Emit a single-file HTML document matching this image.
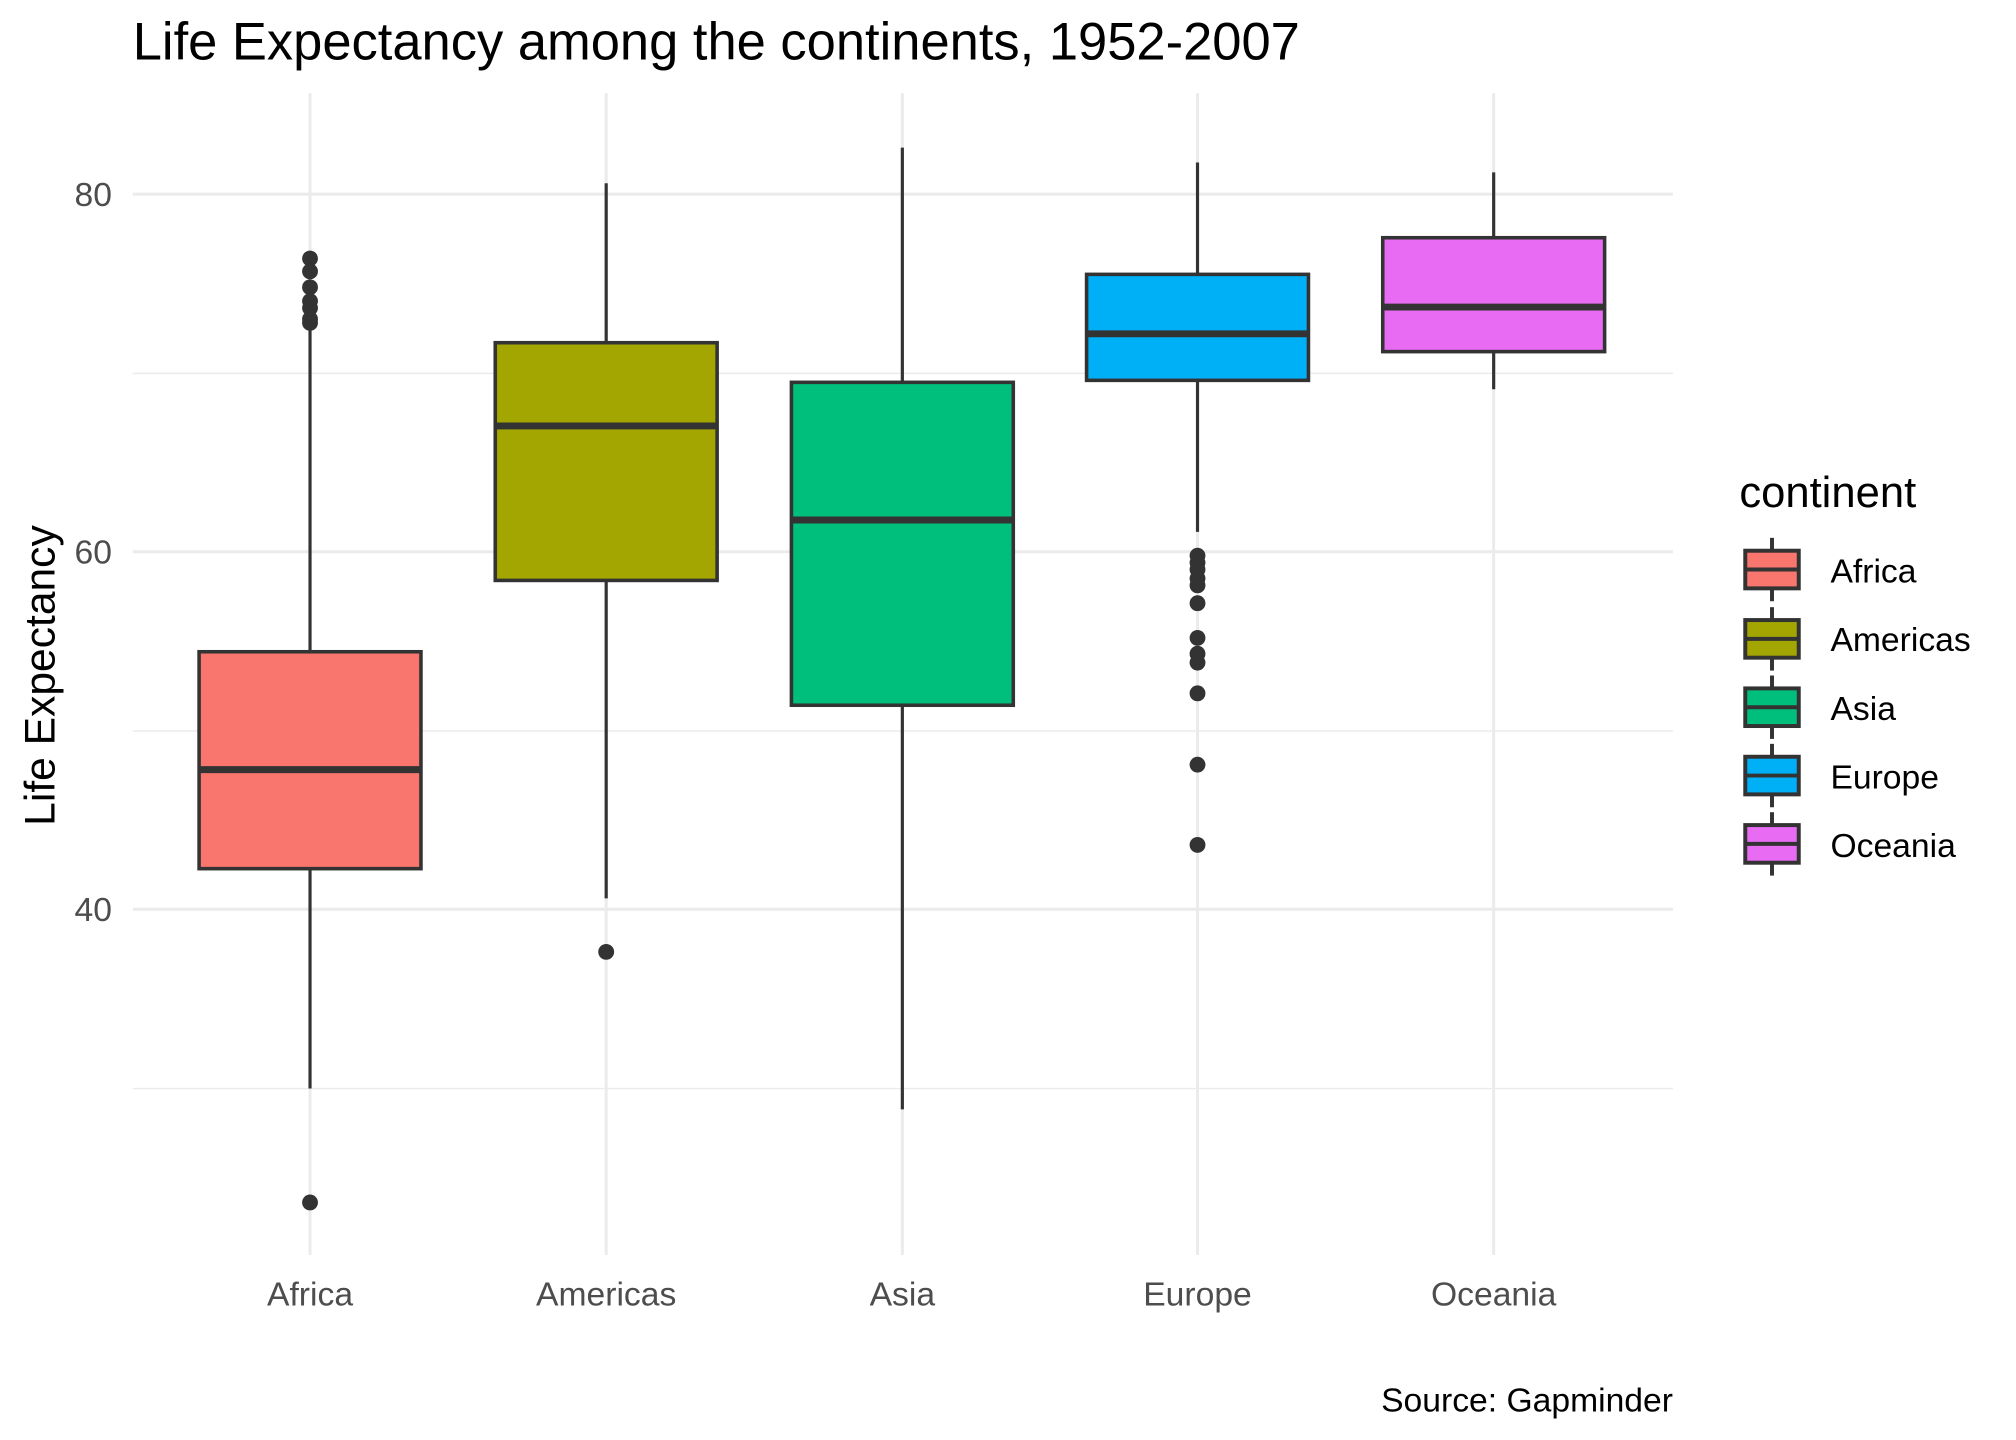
<!DOCTYPE html><html><head><meta charset="utf-8"><style>body{margin:0;background:#fff}svg{display:block}text{font-family:"Liberation Sans",sans-serif}</style></head><body>
<svg width="2016" height="1440" viewBox="0 0 2016 1440">
<g transform="scale(0.9905)">
<g stroke="#ebebeb" stroke-width="1.5">
<line x1="134" x2="1689" y1="377" y2="377"/><line x1="134" x2="1689" y1="738" y2="738"/><line x1="134" x2="1689" y1="1099" y2="1099"/>
</g>
<g stroke="#ebebeb" stroke-width="3">
<line x1="134" x2="1689" y1="196" y2="196"/><line x1="134" x2="1689" y1="557" y2="557"/><line x1="134" x2="1689" y1="918" y2="918"/>
<line x1="313" x2="313" y1="94" y2="1267"/><line x1="612" x2="612" y1="94" y2="1267"/><line x1="911" x2="911" y1="94" y2="1267"/><line x1="1209" x2="1209" y1="94" y2="1267"/><line x1="1508" x2="1508" y1="94" y2="1267"/>
</g>
<g stroke="#333" stroke-width="3.2" fill="none">
<line x1="313" x2="313" y1="326" y2="1099"/><line x1="612" x2="612" y1="185" y2="907"/><line x1="911" x2="911" y1="149" y2="1120"/><line x1="1209" x2="1209" y1="164" y2="537"/><line x1="1508" x2="1508" y1="174" y2="393"/>
</g>
<g stroke="#333" stroke-width="3.6">
<rect x="201" y="658" width="224" height="219" fill="#F8766D"/>
<rect x="500" y="346" width="224" height="240" fill="#A3A500"/>
<rect x="799" y="386" width="224" height="326" fill="#00BF7D"/>
<rect x="1097" y="277" width="224" height="107" fill="#00B0F6"/>
<rect x="1396" y="240" width="224" height="115" fill="#E76BF3"/>
</g>
<g stroke="#333" stroke-width="7">
<line x1="201" x2="425" y1="777" y2="777"/><line x1="500" x2="724" y1="430" y2="430"/><line x1="799" x2="1023" y1="525" y2="525"/><line x1="1097" x2="1321" y1="337" y2="337"/><line x1="1396" x2="1620" y1="310" y2="310"/>
</g>
<g fill="#333">
<circle cx="313" cy="261" r="8"/><circle cx="313" cy="274" r="8"/><circle cx="313" cy="290" r="8"/><circle cx="313" cy="304" r="8"/><circle cx="313" cy="311" r="8"/><circle cx="313" cy="322" r="8"/><circle cx="313" cy="326" r="8"/><circle cx="313" cy="1214" r="8"/>
<circle cx="612" cy="961" r="8"/>
<circle cx="1209" cy="561" r="8"/><circle cx="1209" cy="568" r="8"/><circle cx="1209" cy="575" r="8"/><circle cx="1209" cy="584" r="8"/><circle cx="1209" cy="591" r="8"/><circle cx="1209" cy="609" r="8"/><circle cx="1209" cy="644" r="8"/><circle cx="1209" cy="660" r="8"/><circle cx="1209" cy="669" r="8"/><circle cx="1209" cy="700" r="8"/><circle cx="1209" cy="772" r="8"/><circle cx="1209" cy="853" r="8"/>
</g>
<g fill="#4d4d4d" font-size="34" text-anchor="end">
<text x="113" y="208">80</text><text x="113" y="569">60</text><text x="113" y="930">40</text>
</g>
<g fill="#4d4d4d" font-size="34" text-anchor="middle">
<text x="313" y="1318">Africa</text><text x="612" y="1318">Americas</text><text x="911" y="1318">Asia</text><text x="1209" y="1318">Europe</text><text x="1508" y="1318">Oceania</text>
</g>
<text x="134" y="60" font-size="53">Life Expectancy among the continents, 1952-2007</text>
<text transform="translate(55,682) rotate(-90)" font-size="43" text-anchor="middle">Life Expectancy</text>
<text x="1689" y="1425" font-size="34" text-anchor="end">Source: Gapminder</text>
<text x="1756" y="512" font-size="44">continent</text>
<g stroke="#333" stroke-width="4">
<line x1="1789" x2="1789" y1="543" y2="607"/><rect x="1762" y="556" width="54" height="38" fill="#F8766D"/><line x1="1762" x2="1816" y1="575" y2="575"/>
<line x1="1789" x2="1789" y1="613" y2="677"/><rect x="1762" y="626" width="54" height="38" fill="#A3A500"/><line x1="1762" x2="1816" y1="645" y2="645"/>
<line x1="1789" x2="1789" y1="682" y2="746"/><rect x="1762" y="695" width="54" height="38" fill="#00BF7D"/><line x1="1762" x2="1816" y1="714" y2="714"/>
<line x1="1789" x2="1789" y1="751" y2="815"/><rect x="1762" y="764" width="54" height="38" fill="#00B0F6"/><line x1="1762" x2="1816" y1="783" y2="783"/>
<line x1="1789" x2="1789" y1="820" y2="884"/><rect x="1762" y="833" width="54" height="38" fill="#E76BF3"/><line x1="1762" x2="1816" y1="852" y2="852"/>
</g>
<g font-size="34">
<text x="1848" y="588">Africa</text><text x="1848" y="657">Americas</text><text x="1848" y="727">Asia</text><text x="1848" y="796">Europe</text><text x="1848" y="865">Oceania</text>
</g>
</g>
</svg></body></html>
